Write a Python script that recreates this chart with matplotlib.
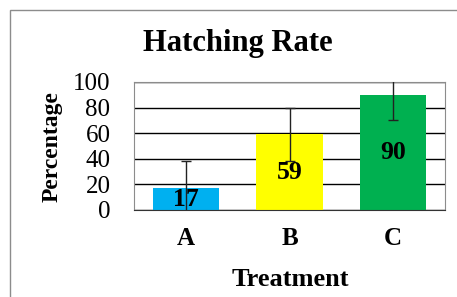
import matplotlib.pyplot as plt
from matplotlib.patches import Rectangle

# data
treatments = ["A", "B", "C"]
rates = [17, 59, 90]
errors = [21, 21, 20]
colors = ["#00B0F0", "#FFFF00", "#00B050"]

plt.rcParams['font.family'] = ['Liberation Serif', 'DejaVu Serif']

fig = plt.figure(figsize=(4.57, 2.97), dpi=100)

# outer chart frame (runs off right/bottom edge)
fig.patches.append(Rectangle((10 / 457, -0.1), 1.0, 1.1 - 10 / 297,
                             transform=fig.transFigure, fill=False,
                             edgecolor="#8c8c8c", linewidth=1.0))

ax = fig.add_axes([134 / 457, 87 / 297, 311 / 457, 128 / 297])
x = range(len(treatments))
ax.bar(x, rates, width=0.64, color=colors, zorder=2)
ax.errorbar(x, rates, yerr=errors, fmt="none", ecolor="#222222",
            elinewidth=1.0, capsize=3.3, capthick=1.0, zorder=3)

for xi, v in zip(x, rates):
    ax.text(xi, v / 2, str(v), ha="center", va="center",
            fontsize=18.5, fontweight="bold", zorder=4)

ax.set_ylim(0, 100)
ax.set_xlim(-0.5, 2.5)
ax.set_yticks([0, 20, 40, 60, 80, 100])
ax.set_xticks(list(x))
ax.set_xticklabels(treatments, fontsize=18, fontweight="bold")
ax.tick_params(axis="y", length=0, labelsize=18, pad=17)
ax.tick_params(axis="x", length=0, pad=12)
ax.yaxis.grid(True, color="black", linewidth=1.0, zorder=1)
ax.set_axisbelow(True)
for s in ["left", "right", "top"]:
    ax.spines[s].set_color("#8c8c8c")
ax.spines["bottom"].set_color("#333333")

fig.text(238 / 457, 1 - 43 / 297, "Hatching Rate", ha="center", va="center",
         fontsize=22, fontweight="bold")
fig.text(290 / 457, 1 - 279 / 297, "Treatment", ha="center", va="center",
         fontsize=19, fontweight="bold")
fig.text(52 / 457, 1 - 147 / 297, "Percentage", ha="center", va="center",
         rotation=90, fontsize=17, fontweight="bold")

fig.savefig("out.png", dpi=100)
